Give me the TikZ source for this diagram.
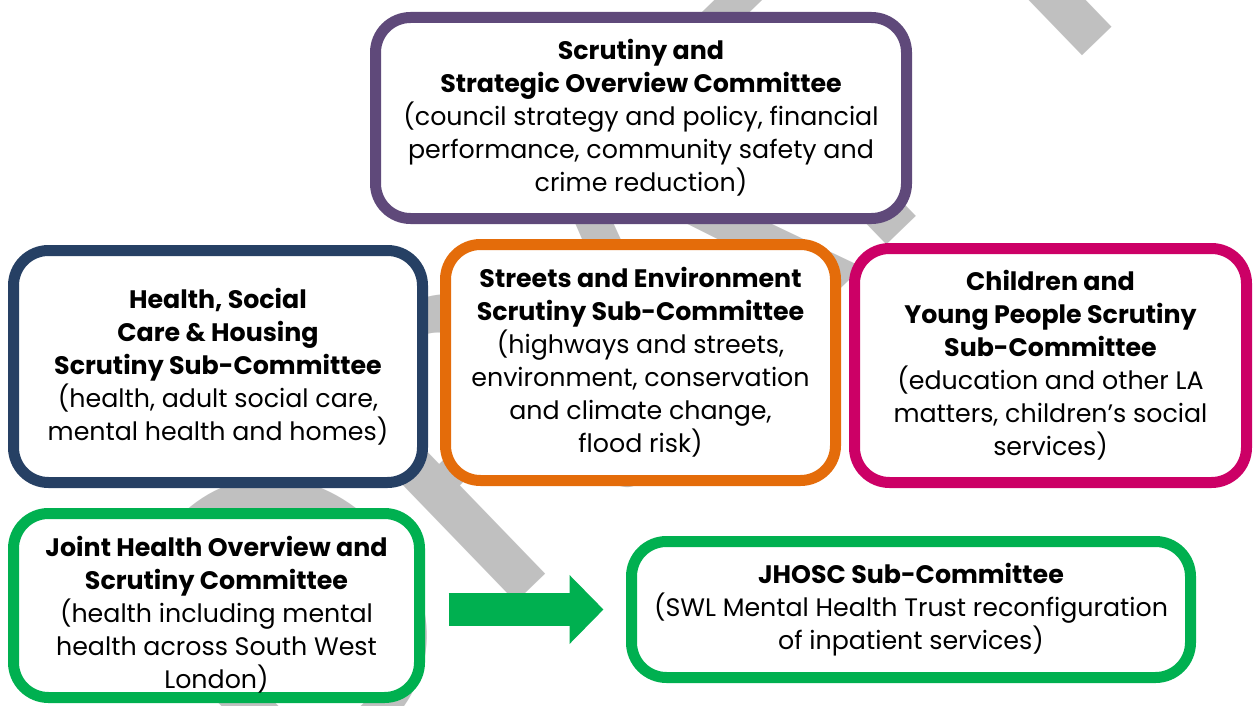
\documentclass[tikz,border=0pt]{standalone}
\usepackage{fontspec}
\setmainfont{Poppins}
\newfontfamily\wmfont{Carlito}
\usetikzlibrary{arrows.meta}

\definecolor{scrpurple}{HTML}{5F497A}
\definecolor{scrnavy}{HTML}{264064}
\definecolor{scrorange}{HTML}{E46C0A}
\definecolor{scrpink}{HTML}{CC0066}
\definecolor{scrgreen}{HTML}{00B050}
\definecolor{wmgray}{HTML}{C0C0C0}

\newcommand{\pxl}{0.02cm}

\tikzset{
  committee/.style={draw, line width=11*\pxl, rounded corners=0.7cm, fill=white,
    align=center, inner sep=0pt, font=\fontsize{14.4}{18.8}\selectfont},
  boxtext/.style={align=center, inner sep=0pt, font=\fontsize{14.4}{18.8}\selectfont},
}

\begin{document}
\begin{tikzpicture}[x=0.02cm, y=-0.02cm]
\useasboundingbox (0,0) rectangle (1258,706);

% watermark behind the boxes
\node[wmgray, rotate=44, anchor=base west, inner sep=0pt,
  font=\wmfont\fontsize{262}{262}\selectfont] (wm) at (289,822) {DRAFT};

\node[committee, draw=scrpurple, minimum width=531*\pxl, minimum height=201*\pxl] (sso) at (641,118)
  {\textbf{Scrutiny and}\\ \textbf{Strategic Overview Committee}\\ (council strategy and policy, financial\\ performance, community safety and\\ crime reduction)};

\node[committee, draw=scrnavy, minimum width=409*\pxl, minimum height=232*\pxl] (hsc) at (218,366.5)
  {\textbf{Health, Social}\\ \textbf{Care \& Housing}\\ \textbf{Scrutiny Sub-Committee}\\ (health, adult social care,\\ mental health and homes)};

\node[committee, draw=scrorange, minimum width=390*\pxl, minimum height=236*\pxl] (see) at (640.5,362.5)
  {\textbf{Streets and Environment}\\ \textbf{Scrutiny Sub-Committee}\\ (highways and streets,\\ environment, conservation\\ and climate change,\\ flood risk)};

\node[committee, draw=scrpink, minimum width=392*\pxl, minimum height=234*\pxl] (cyp) at (1050.5,365.5)
  {\textbf{Children and}\\ \textbf{Young People Scrutiny}\\ \textbf{Sub-Committee}\\ (education and other LA\\ matters, children’s social\\ services)};

\node[committee, draw=scrgreen, minimum width=406*\pxl, minimum height=184*\pxl] (jhosc) at (216.5,605.5) {};
\node[boxtext] (jhtext) at ([yshift=-9*\pxl]jhosc.center)
  {\textbf{Joint Health Overview and}\\ \textbf{Scrutiny Committee}\\ (health including mental\\ health across South West\\ London)};

\node[committee, draw=scrgreen, minimum width=559*\pxl, minimum height=136*\pxl] (sub) at (911,609.5)
  {\textbf{JHOSC Sub-Committee}\\ (SWL Mental Health Trust reconfiguration\\ of inpatient services)};

\draw[scrgreen, line width=33*\pxl, -{Triangle[width=67*\pxl, length=34*\pxl]},
  shorten <=23.5*\pxl, shorten >=22.5*\pxl] (jhosc.east |- sub.west) -- (sub.west);

\end{tikzpicture}
\end{document}
